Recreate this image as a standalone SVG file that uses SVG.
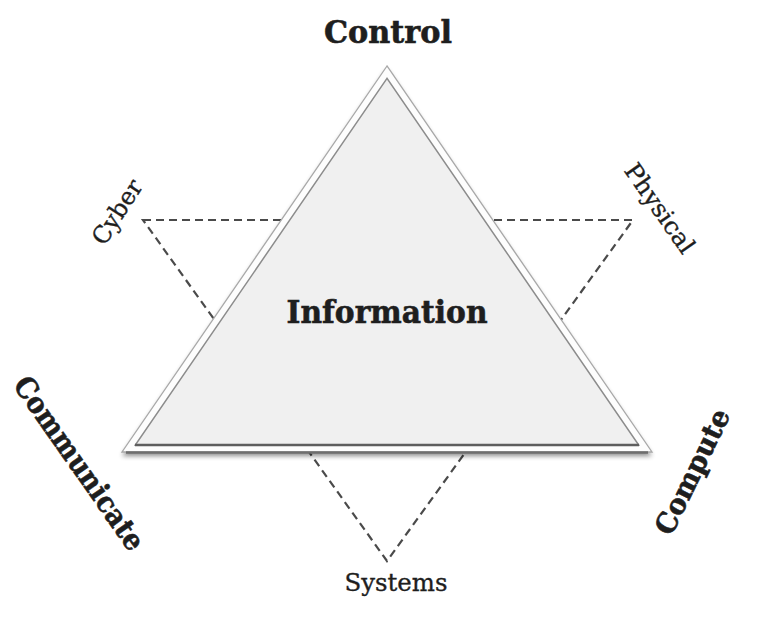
<svg xmlns="http://www.w3.org/2000/svg" width="767" height="618" viewBox="0 0 767 618">
<style>
text{font-family:"DejaVu Serif","Liberation Serif",serif;fill:#1e1e1e;stroke:#1e1e1e;stroke-width:0.35}
.b{font-weight:bold;stroke-width:0.6}
.dash{fill:none;stroke:#4a4a4a;stroke-width:2.2;stroke-dasharray:8 5}
</style>
<defs>
<filter id="sh" x="-10%" y="-10%" width="120%" height="130%">
<feGaussianBlur stdDeviation="2.5"/>
</filter>
</defs>
<rect width="767" height="618" fill="#ffffff"/>
<g id="connectors">
<polygon class="dash" points="143,220 633,220 387,561"/>
</g>
<g id="information">
<polygon points="387,70 122,456 652,456" fill="#000" opacity="0.45" filter="url(#sh)"/>
<polygon points="387,66 122,452 652,452" fill="#fdfdfd" stroke="#a8a8a8" stroke-width="1.3"/>
<polygon points="387,78.4 135.3,445 638.7,445" fill="#f0f0f0" stroke="#8c8c8c" stroke-width="1.5"/>
<line x1="135" y1="445" x2="639" y2="445" stroke="#5e5e5e" stroke-width="2.5"/>
<line x1="126" y1="452.5" x2="648" y2="452.5" stroke="#6e6e6e" stroke-width="2.5"/>
<text class="b" x="387" y="323" font-size="32" text-anchor="middle" textLength="201" lengthAdjust="spacingAndGlyphs">Information</text>
</g>
<g id="control">
<text class="b" x="388" y="43" font-size="32" text-anchor="middle" textLength="128" lengthAdjust="spacingAndGlyphs">Control</text>
</g>
<g id="cyber">
<text x="124" y="216.5" font-size="24" text-anchor="middle" transform="rotate(-57 124 216.5)" textLength="72" lengthAdjust="spacingAndGlyphs">Cyber</text>
</g>
<g id="physical">
<text x="653" y="213" font-size="24" text-anchor="middle" transform="rotate(55 653 213)" textLength="104" lengthAdjust="spacingAndGlyphs">Physical</text>
</g>
<g id="communicate">
<text class="b" x="71" y="469" font-size="29" text-anchor="middle" transform="rotate(55 71 469)" textLength="205" lengthAdjust="spacingAndGlyphs">Communicate</text>
</g>
<g id="compute">
<text class="b" x="701" y="476" font-size="28" text-anchor="middle" transform="rotate(-64 701 476)" textLength="136" lengthAdjust="spacingAndGlyphs">Compute</text>
</g>
<g id="systems">
<text x="396" y="591" font-size="24" text-anchor="middle" textLength="103" lengthAdjust="spacingAndGlyphs">Systems</text>
</g>
</svg>
